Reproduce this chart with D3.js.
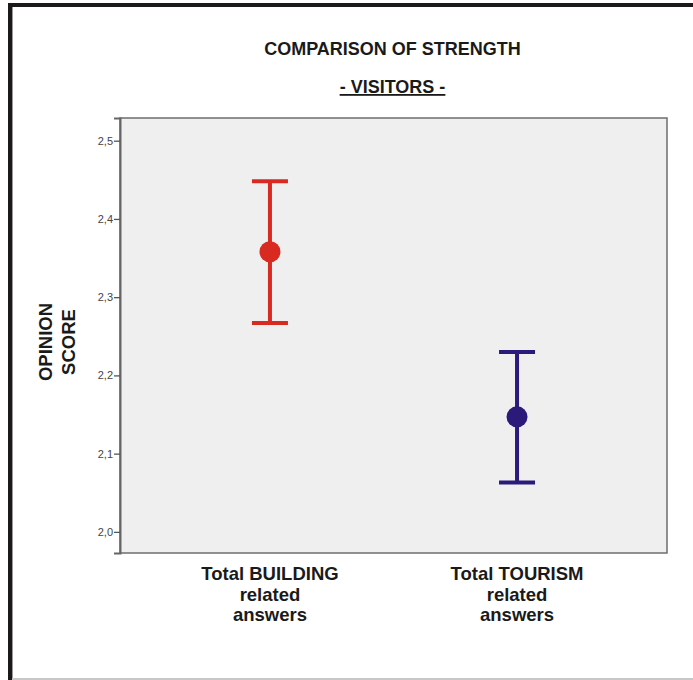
<!DOCTYPE html>
<html>
<head>
<meta charset="utf-8">
<script src="https://cdn.jsdelivr.net/npm/d3@7"></script>
<style>
  html, body { margin: 0; padding: 0; background: #fff; }
  svg { display: block; font-family: "Liberation Sans", Arial, Helvetica, sans-serif; }
</style>
</head>
<body>
<svg id="chart" width="693" height="680"></svg>
<script>
// ---- data ----
const categories = ["Total BUILDING related answers", "Total TOURISM related answers"];
const categoryLines = [["Total BUILDING", "related", "answers"], ["Total TOURISM", "related", "answers"]];
const means = [2.358, 2.147];
const lower = [2.267, 2.063];
const upper = [2.448, 2.230];
const colors = ["#d92a22", "#2b1a7a"];
const yTicks = [2.0, 2.1, 2.2, 2.3, 2.4, 2.5];
const yTickLabels = ["2,0", "2,1", "2,2", "2,3", "2,4", "2,5"];
const title = "COMPARISON OF STRENGTH";
const subtitle = "- VISITORS -";
const yLabelLines = ["OPINION", "SCORE"];

const svg = d3.select("#chart");

// outer frame
svg.append("rect").attr("x", 0).attr("y", 0).attr("width", 693).attr("height", 680).attr("fill", "#fff");
svg.append("line").attr("x1", 8).attr("x2", 693).attr("y1", 5).attr("y2", 5)
  .attr("stroke", "#1c1a18").attr("stroke-width", 4);
svg.append("line").attr("x1", 10).attr("x2", 10).attr("y1", 3).attr("y2", 680)
  .attr("stroke", "#1c1a18").attr("stroke-width", 4);
svg.append("line").attr("x1", 12.5).attr("x2", 12.5).attr("y1", 7).attr("y2", 680)
  .attr("stroke", "#9a9a9a").attr("stroke-width", 1);
svg.append("line").attr("x1", 12).attr("x2", 693).attr("y1", 679).attr("y2", 679)
  .attr("stroke", "#c8c8c8").attr("stroke-width", 2);

// plot area
const plot = { left: 120, right: 667, top: 118, bottom: 553 };

const y = d3.scaleLinear().domain([1.973, 2.529]).range([plot.bottom, plot.top]);
const x = d3.scalePoint().domain(categories).range([plot.left, plot.right]).padding(0.607);

svg.append("rect")
  .attr("x", plot.left).attr("y", plot.top)
  .attr("width", plot.right - plot.left).attr("height", plot.bottom - plot.top)
  .attr("fill", "#efefef").attr("stroke", "#6e6e6e").attr("stroke-width", 1.5);

// y axis
const yAxis = d3.axisLeft(y).tickValues(yTicks)
  .tickFormat((d, i) => yTickLabels[i]).tickSize(6).tickPadding(1);
const gy = svg.append("g").attr("transform", `translate(${plot.left},0)`).call(yAxis);
gy.select(".domain").attr("stroke", "#666").attr("stroke-width", 2);
gy.selectAll(".tick line").attr("stroke", "#555").attr("stroke-width", 1.3);
gy.selectAll(".tick text").attr("fill", "#444").attr("font-size", "11px")
  .attr("font-family", "'Liberation Sans', Arial, sans-serif");

// x axis (no visible ticks, labels only)
const gx = svg.append("g").attr("transform", `translate(0,${plot.bottom})`);
categories.forEach((c, i) => {
  const t = gx.append("text")
    .attr("x", x(c)).attr("y", 27)
    .attr("text-anchor", "middle")
    .attr("font-weight", "bold").attr("font-size", "18.5px").attr("fill", "#1a1a1a");
  categoryLines[i].forEach((line, j) => {
    t.append("tspan").attr("x", x(c)).attr("dy", j === 0 ? 0 : 20.5).text(line);
  });
});

// error bars
const capHalf = 18;
const g = svg.append("g");
categories.forEach((c, i) => {
  const cx = x(c);
  g.append("line").attr("x1", cx).attr("x2", cx)
    .attr("y1", y(upper[i])).attr("y2", y(lower[i]))
    .attr("stroke", colors[i]).attr("stroke-width", 4);
  [upper[i], lower[i]].forEach(v => {
    g.append("line").attr("x1", cx - capHalf).attr("x2", cx + capHalf)
      .attr("y1", y(v)).attr("y2", y(v))
      .attr("stroke", colors[i]).attr("stroke-width", 4);
  });
  g.append("circle").attr("cx", cx).attr("cy", y(means[i])).attr("r", 10.5)
    .attr("fill", colors[i]);
});

// titles
const cxTitle = (plot.left + plot.right) / 2 - 1;
svg.append("text").attr("x", cxTitle).attr("y", 55)
  .attr("text-anchor", "middle").attr("font-weight", "bold")
  .attr("font-size", "18px").attr("fill", "#1a1a1a").text(title);
svg.append("text").attr("x", cxTitle).attr("y", 93)
  .attr("text-anchor", "middle").attr("font-weight", "bold")
  .attr("font-size", "18px").attr("fill", "#1a1a1a")
  .attr("text-decoration", "underline").text(subtitle);

// y label
const yl = svg.append("text")
  .attr("transform", "translate(52,342) rotate(-90)")
  .attr("text-anchor", "middle").attr("font-weight", "bold")
  .attr("font-size", "18.5px").attr("fill", "#1a1a1a");
yLabelLines.forEach((line, j) => {
  yl.append("tspan").attr("x", 0).attr("dy", j === 0 ? 0 : 23).text(line);
});
</script>
</body>
</html>
